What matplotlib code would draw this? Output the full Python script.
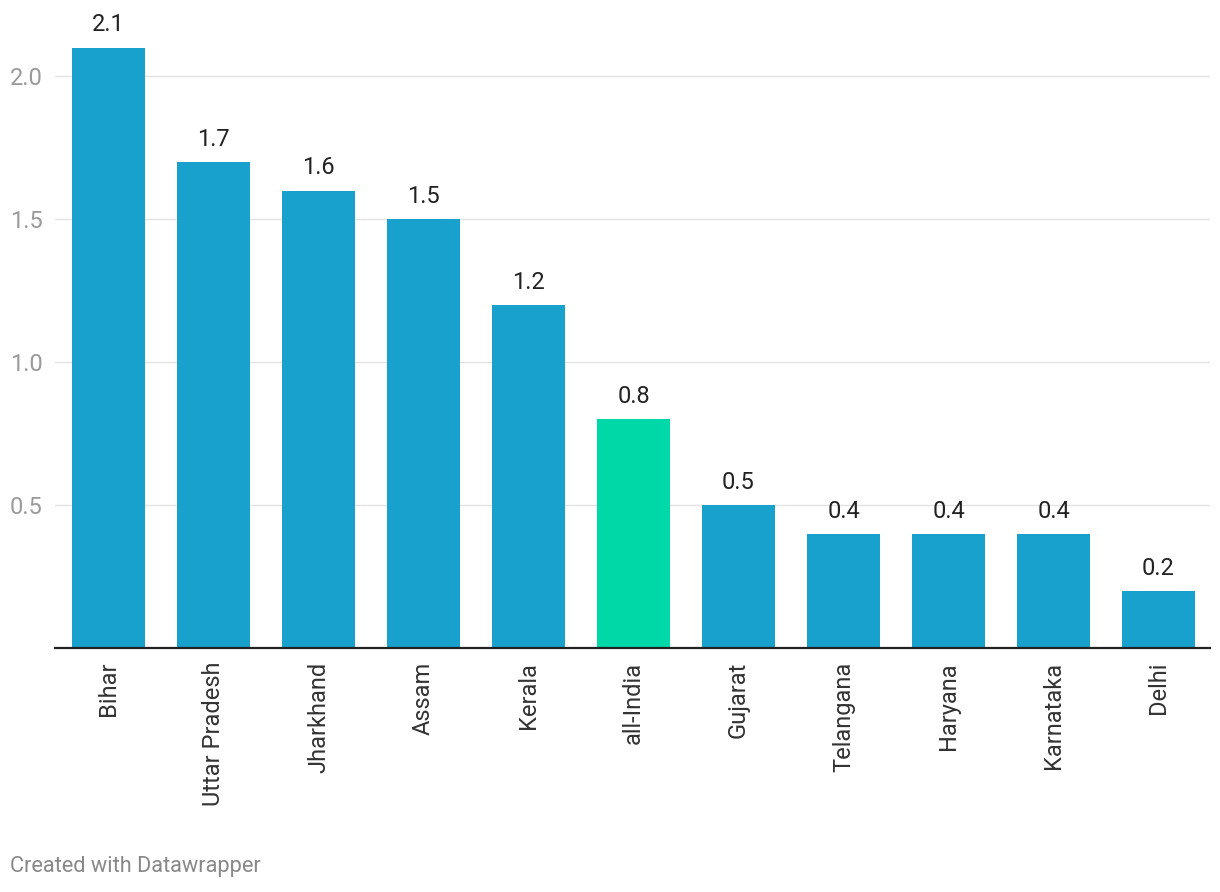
import matplotlib.pyplot as plt

states = ["Bihar", "Uttar Pradesh", "Jharkhand", "Assam", "Kerala", "all-India",
          "Gujarat", "Telangana", "Haryana", "Karnataka", "Delhi"]
values = [2.1, 1.7, 1.6, 1.5, 1.2, 0.8, 0.5, 0.4, 0.4, 0.4, 0.2]
yticks = [0.5, 1.0, 1.5, 2.0]

plt.rcParams['font.family'] = ['Roboto', 'DejaVu Sans']

fig = plt.figure(figsize=(12.2, 8.92), dpi=100)
ax = fig.add_axes([0.0451, 0.2735, 0.9467, 0.7052])

colors = ["#00d9a7" if s == "all-India" else "#18a1cd" for s in states]
x = range(len(states))
bars = ax.bar(x, values, width=0.695, color=colors, zorder=2)

for b, v in zip(bars, values):
    ax.annotate(f"{v:.1f}", (b.get_x() + b.get_width() / 2, v),
                xytext=(0, 8), textcoords="offset points",
                ha="center", va="bottom", fontsize=17, color="#222222")

ax.set_xlim(-0.51, 10.49)
ax.set_ylim(0, 2.2)
ax.set_yticks(yticks)
ax.set_yticklabels([f"{t:.1f}" for t in yticks])
ax.set_xticks(list(x))
ax.set_xticklabels(states, rotation=90, fontsize=17, color="#333333")
ax.grid(axis="y", color="#e3e3e3", linewidth=1, zorder=0)
ax.tick_params(axis="y", length=0, pad=32.4, labelsize=17, labelcolor="#9a9a9a")
for lab in ax.get_yticklabels():
    lab.set_horizontalalignment("left")
ax.tick_params(axis="x", length=0, pad=10)

for s in ["top", "right", "left"]:
    ax.spines[s].set_visible(False)
ax.spines["bottom"].set_color("#222222")
ax.spines["bottom"].set_linewidth(1.6)
ax.spines["bottom"].set_zorder(3)

fig.text(0.0082, 0.029, "Created with Datawrapper", fontsize=15.7, color="#888888",
         ha="left", va="center")

fig.savefig("out.png", dpi=100)
